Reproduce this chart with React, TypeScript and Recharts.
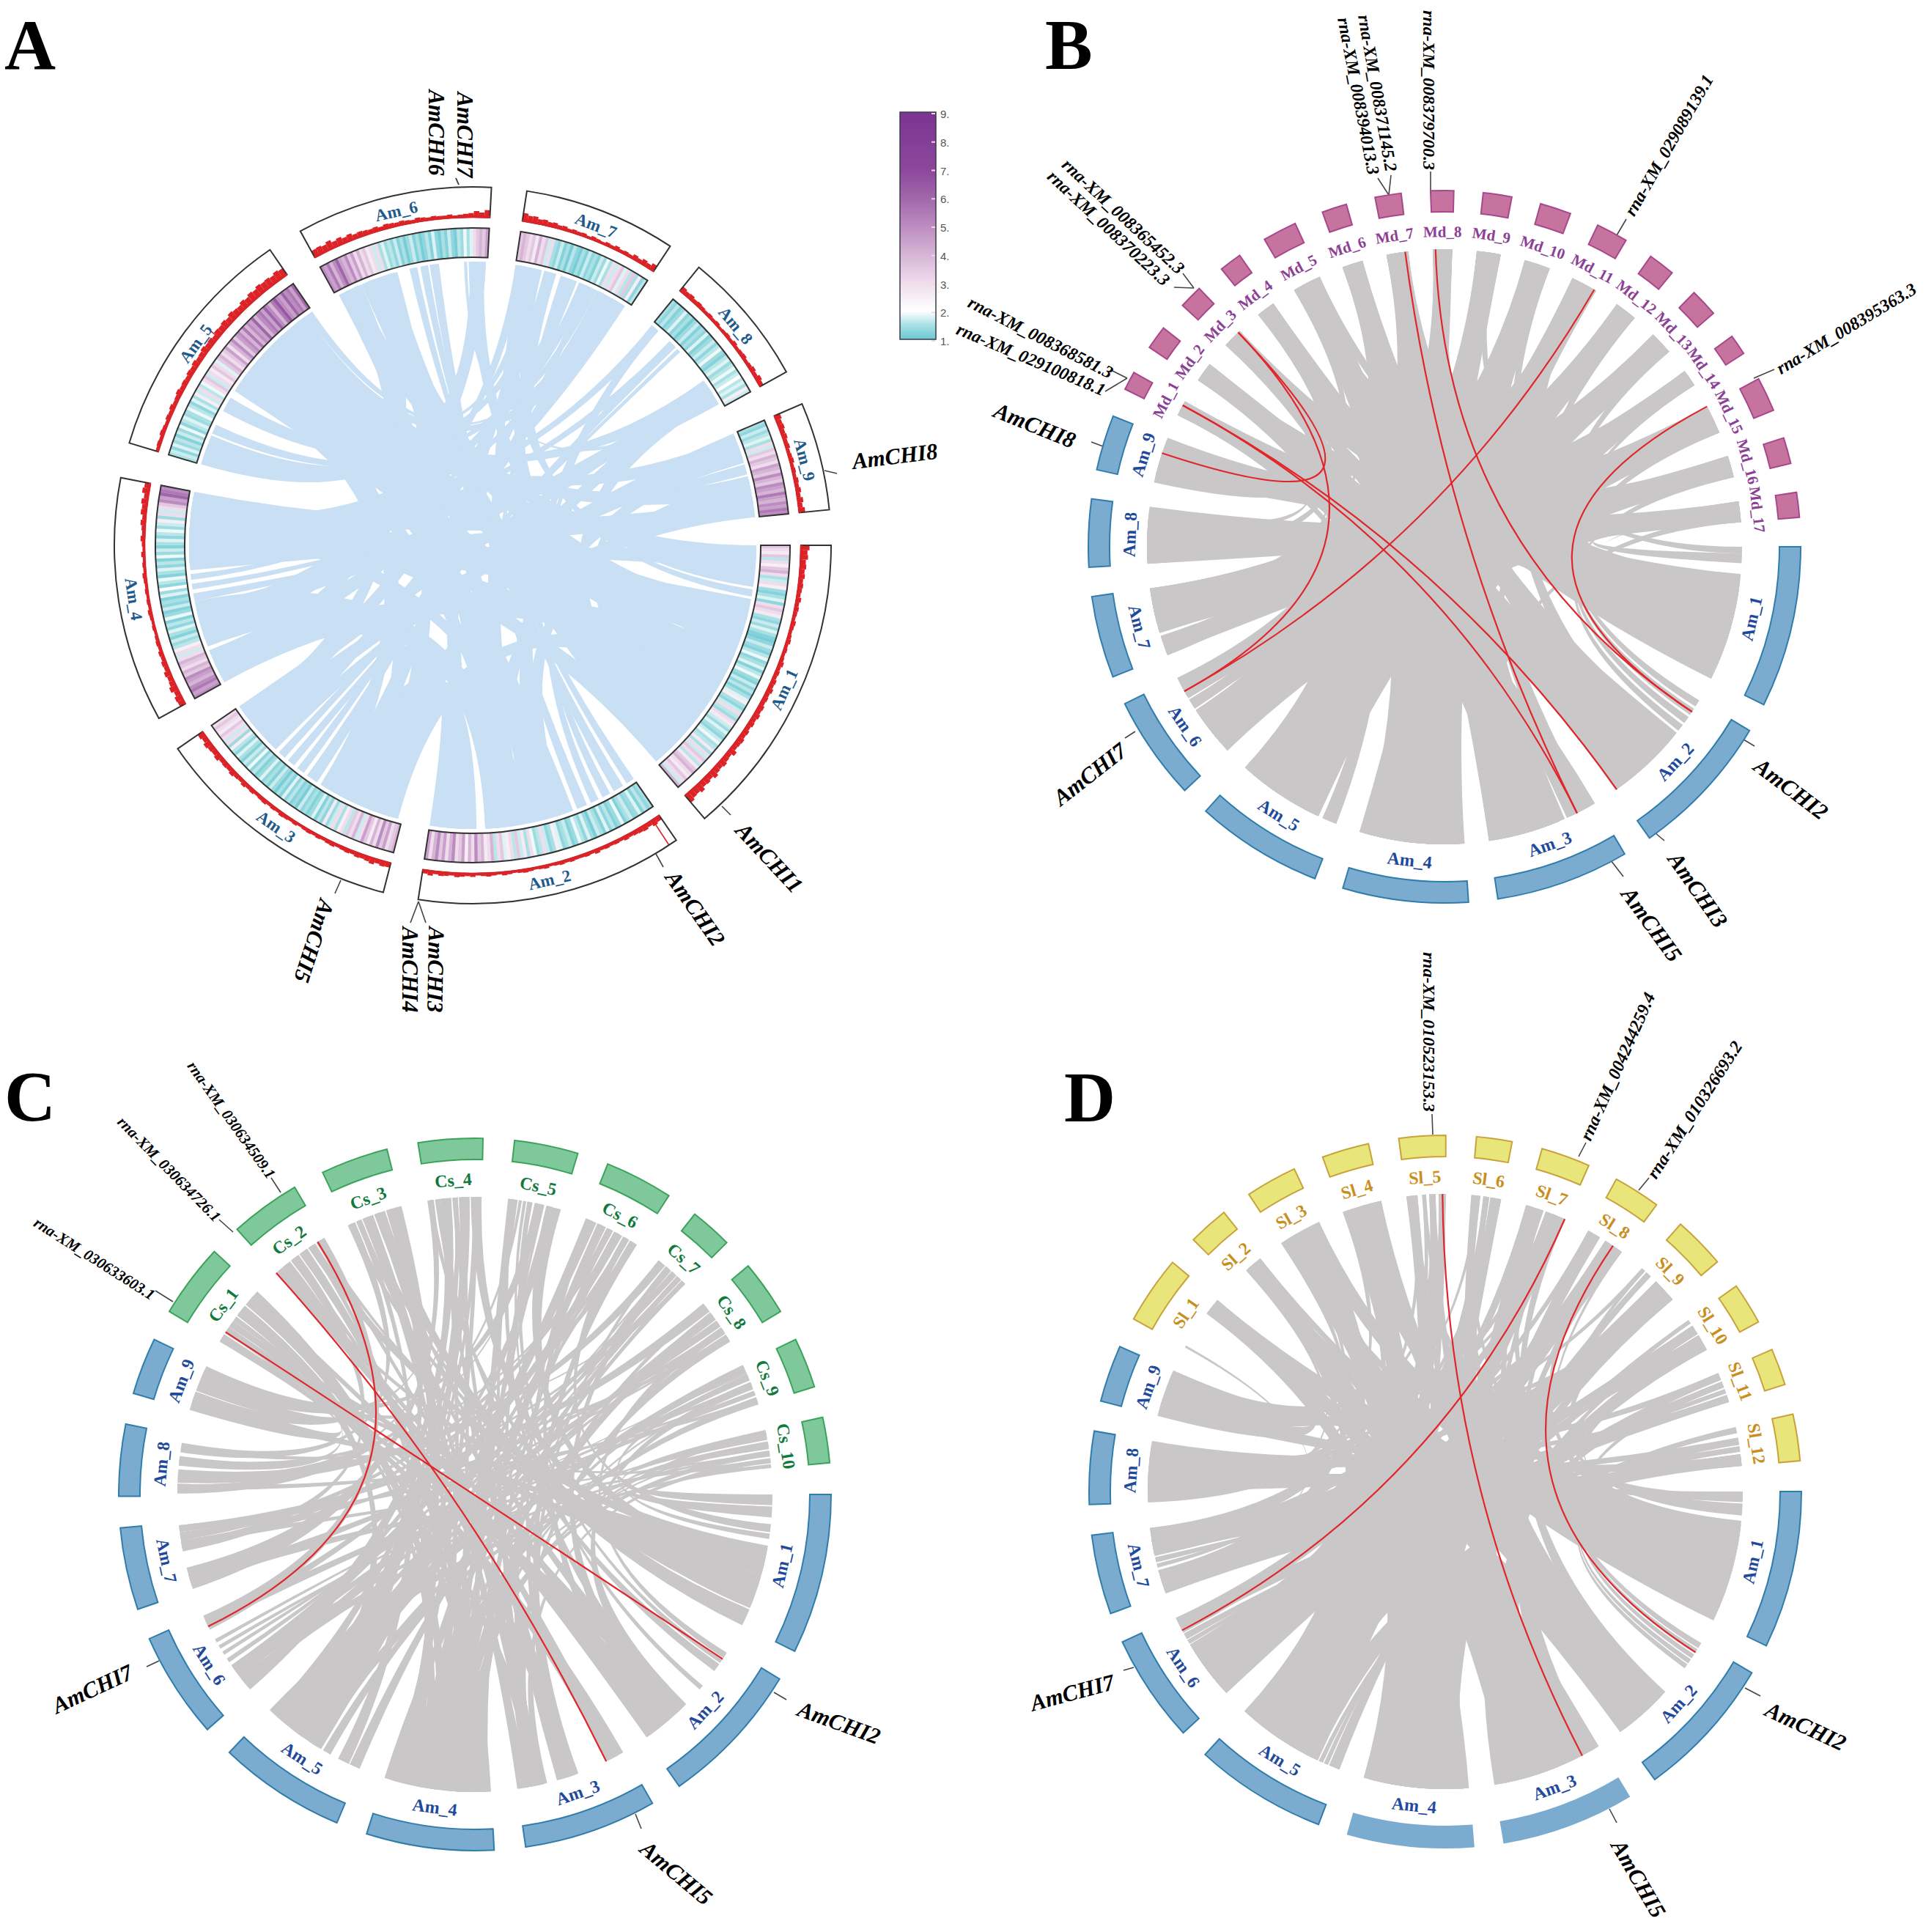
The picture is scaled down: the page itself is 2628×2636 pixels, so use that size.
import { Curve, Pie, PieChart, Sector } from "recharts";

const AM = ["Am_1", "Am_2", "Am_3", "Am_4", "Am_5", "Am_6", "Am_7", "Am_8", "Am_9"];
const amA = [49.6, 43.3, 40.9, 39.7, 38.9, 31.7, 24.7, 21.9, 17.5];
const amB = [26, 23.5, 21.5, 20.2, 20.5, 16.8, 13.2, 10.9, 8.9];
const amC = [26.1, 23.8, 21.7, 20.8, 20.8, 17.4, 13.4, 11.7, 9.3];
const amD = [25.7, 23.4, 21.6, 20.5, 21.6, 17.7, 13, 11.9, 9.3];

const MD = ["Md_1", "Md_2", "Md_3", "Md_4", "Md_5", "Md_6", "Md_7", "Md_8", "Md_9", "Md_10", "Md_11", "Md_12", "Md_13", "Md_14", "Md_15", "Md_16", "Md_17"];
const mdLen = [3, 3.8, 3.8, 3.6, 5.5, 4, 4.2, 3.7, 4.6, 5, 5.1, 4.3, 4.5, 3.3, 5.5, 4.2, 4];
const CS = ["Cs_1", "Cs_2", "Cs_3", "Cs_4", "Cs_5", "Cs_6", "Cs_7", "Cs_8", "Cs_9", "Cs_10"];
const csLen = [12.1, 11.5, 11, 10.5, 10.4, 11.1, 6.9, 9, 8.2, 7.4];
const SL = ["Sl_1", "Sl_2", "Sl_3", "Sl_4", "Sl_5", "Sl_6", "Sl_7", "Sl_8", "Sl_9", "Sl_10", "Sl_11", "Sl_12"];
const slLen = [11.1, 6.6, 8.4, 7.7, 7.6, 5.8, 8, 7.7, 8.5, 6.8, 6, 7.6];

// gene density strips, one list per chromosome (panel A)
const heat1 = [3.5, 3, 2.6, 3.5, 1.6, 3, 2.5, 3.5, 4, 3, 1.5, 1.7, 3, 2.5, 1.4, 1.2, 1.5, 1.8, 1.3, 3, 3.5, 3, 2.6, 1.5, 1.3, 1.7, 1.4, 1.8, 1.5, 1.2, 1.1, 1.3, 1.7, 1.4, 1.2, 1.6, 1.9, 1.3, 1.5, 1.8, 1.2, 1.6, 1.9, 1.4, 1.2, 1.7, 1.3, 1.6, 1.2, 1.5, 1.8, 2.5, 1.5, 1.3, 1.7, 3, 1.6, 1.4, 3, 2.6, 1.7, 1.4, 1.8, 1.5, 1.3, 1.7, 1.9, 1.5, 1.6, 2.6, 1.5, 3, 1.7, 3.5, 3, 1.6, 2.6, 3.5, 4, 3, 2.6, 3.5, 3, 1.7, 4];
const heat2 = [1.5, 1.3, 1.6, 1.2, 1.8, 1.4, 1.3, 1.7, 1.5, 1.2, 1.9, 1.4, 1.2, 1.6, 1.3, 1.8, 1.2, 1.5, 1.7, 1.1, 1.4, 1.8, 1.3, 1.6, 1.9, 1.4, 1.2, 1.7, 1.5, 1.3, 1.8, 2.5, 1.5, 1.3, 1.7, 3, 1.6, 1.4, 1.9, 3, 1.5, 2.6, 1.7, 3.5, 1.6, 3, 2.5, 1.8, 3.5, 3, 1.6, 4, 3, 2.6, 4, 3.5, 5, 3, 4, 2.5, 4.5, 3.5, 3, 5, 4, 3, 4.5, 3.5, 5, 4, 3, 4.5];
const heat3 = [4, 3.5, 3, 4.5, 3.5, 5, 3, 4, 2.6, 3.5, 4.5, 3, 1.7, 4, 3, 3.5, 1.6, 3, 2.5, 1.5, 3, 1.7, 1.4, 2.6, 1.3, 1.6, 1.2, 1.8, 1.4, 1.2, 1.5, 1.3, 1.7, 1.1, 1.4, 1.2, 1.6, 1.3, 1.8, 1.2, 1.5, 1.1, 1.4, 1.7, 1.2, 1.5, 1.3, 1.8, 1.4, 1.2, 1.6, 1.3, 1.9, 1.4, 1.7, 1.2, 1.5, 1.8, 1.3, 1.6, 2.5, 1.4, 3, 1.7, 3, 3.5, 2.6, 3, 3.5, 3];
const heat4 = [5, 4.5, 5.5, 5, 4, 4.5, 5, 3.5, 4, 3, 3.5, 4, 3, 1.7, 3, 2.5, 1.6, 1.4, 1.7, 1.2, 1.5, 1.8, 1.3, 1.6, 1.2, 1.9, 1.4, 1.2, 1.7, 1.3, 1.5, 1.2, 1.8, 1.4, 2, 1.3, 1.6, 1.9, 1.2, 1.5, 1.8, 1.3, 1.6, 1.2, 1.9, 1.4, 1.7, 1.2, 1.5, 1.8, 1.3, 1.6, 1.9, 1.4, 1.7, 2.5, 1.4, 3, 1.7, 3, 3.5, 5, 4.5, 6, 5.5, 5];
const heat5 = [1.5, 1.7, 1.3, 1.8, 1.4, 1.6, 1.2, 1.7, 1.4, 1.9, 1.3, 1.6, 1.8, 1.4, 1.5, 1.9, 1.6, 1.3, 1.8, 1.5, 2.5, 1.7, 3, 1.6, 1.9, 3, 3.5, 1.7, 3, 2.6, 3.5, 3, 1.8, 3.5, 4, 3, 3.5, 4.5, 3, 4, 5, 3.5, 4.5, 5, 4, 5.5, 4, 5, 4.5, 6, 4, 5, 5.5, 4.5, 6, 5, 4, 5.5, 6.5, 5, 4.5, 6, 5, 5.5, 4.5, 6];
const heat6 = [5, 4.5, 5.5, 4, 5, 6, 4.5, 4, 5, 3.5, 4.5, 3, 4, 3, 3.5, 2.6, 3, 1.7, 3, 1.5, 1.8, 1.4, 1.6, 1.3, 1.7, 1.2, 1.5, 1.1, 1.4, 1.7, 1.2, 1.5, 1.1, 1.3, 1.6, 1.2, 1.8, 1.3, 1.1, 1.5, 1.2, 1.7, 1.3, 1.1, 1.6, 1.4, 1.9, 1.5, 1.8, 3, 3.5, 4, 3.5, 4.5];
const heat7 = [3.5, 4, 3.5, 3, 3.5, 2.6, 4, 3, 3.5, 1.7, 3, 1.5, 1.3, 1.7, 1.2, 1.5, 1.1, 1.6, 1.3, 1.1, 1.5, 1.2, 1.7, 1.3, 1.5, 1.2, 1.7, 1.4, 1.9, 1.5, 3, 1.7, 3, 3.5, 1.8, 3, 1.6, 3.5, 1.5, 2.5, 1.3, 1.6];
const heat8 = [1.5, 1.3, 1.6, 1.2, 1.4, 1.8, 1.3, 1.5, 1.1, 1.4, 1.7, 1.2, 1.5, 1.3, 1.8, 1.2, 1.4, 1.7, 1.3, 1.6, 1.9, 1.4, 1.2, 1.6, 1.8, 1.4, 1.6, 1.9, 1.5, 1.7, 2, 1.6, 1.8, 1.5, 2.5, 1.7];
const heat9 = [1.5, 1.3, 1.7, 1.4, 1.6, 1.8, 1.5, 3, 1.7, 3.5, 3, 4, 3.5, 3, 4.5, 4, 3.5, 5, 4, 3.5, 5, 4.5, 4, 5.5, 4.5, 4, 5, 4.5, 5.5, 5];
const heatLists = [heat1, heat2, heat3, heat4, heat5, heat6, heat7, heat8, heat9];

// read count histogram heights (panel A)
const hist1 = [14, 11, 12, 9, 10, 8, 9, 7, 8, 7, 6, 8, 6, 7, 6, 5, 7, 6, 5, 6, 7, 5, 6, 5, 6, 8, 6, 7, 6, 8, 7, 9, 7, 8, 7, 9, 8, 10, 8, 9, 7, 9, 8, 10, 9, 8, 12, 8, 9, 11, 9, 10, 13, 9, 11, 10, 14, 11, 12, 15];
const hist2 = [8, 10, 7, 9, 8, 7, 6, 7, 5, 6, 5, 6, 5, 7, 5, 6, 5, 5, 6, 5, 6, 5, 4, 6, 5, 4, 5, 6, 5, 4, 5, 6, 4, 5, 6, 5, 4, 6, 5, 6, 7, 5, 6, 7, 5, 8, 6];
const hist3 = [8, 9, 7, 10, 8, 7, 8, 6, 7, 6, 5, 7, 6, 5, 6, 5, 6, 5, 4, 6, 5, 6, 7, 5, 6, 5, 7, 6, 5, 7, 6, 8, 6, 7, 9, 7, 8, 7, 10, 8, 9, 11, 8, 10];
const hist4 = [10, 11, 8, 12, 9, 8, 10, 7, 8, 6, 7, 5, 6, 5, 4, 5, 4, 5, 6, 4, 5, 4, 5, 4, 5, 6, 4, 5, 4, 6, 4, 5, 7, 5, 6, 8, 6, 9, 8, 10, 7, 11, 9];
const hist5 = [5, 6, 5, 7, 6, 5, 7, 6, 8, 6, 7, 9, 7, 8, 7, 9, 8, 10, 8, 9, 11, 9, 10, 8, 11, 10, 12, 10, 13, 11, 10, 13, 11, 14, 12, 15, 13, 14, 12, 15, 13];
const hist6 = [12, 13, 11, 14, 10, 12, 9, 11, 8, 9, 8, 7, 8, 6, 8, 7, 6, 7, 6, 5, 7, 6, 5, 6, 5, 5, 6, 4, 5, 6, 7, 10, 8, 12];
const hist7 = [13, 10, 11, 8, 9, 7, 8, 6, 7, 5, 6, 5, 6, 4, 6, 5, 4, 6, 5, 7, 5, 6, 5, 8, 6, 9, 7, 11];
const hist8 = [9, 7, 8, 6, 7, 6, 5, 6, 5, 6, 4, 5, 6, 5, 7, 5, 6, 7, 5, 6, 8, 6, 9, 7];
const hist9 = [10, 8, 9, 7, 8, 6, 7, 5, 6, 7, 5, 6, 5, 7, 6, 8, 6, 9, 7, 10];
const histLists = [hist1, hist2, hist3, hist4, hist5, hist6, hist7, hist8, hist9];

// [sector, from %, to %, sector, from %, to %]
const linksA = [
  [0, 22, 42, 3, 72, 97], [0, 42, 56, 3, 0, 17], [0, 56, 70, 2, 2, 18], [0, 70, 86, 4, 42, 62], [0, 86, 100, 5, 18, 40],
  [0, 0, 12, 5, 2, 16], [0, 12, 17, 6, 0, 10], [0, 18, 21, 6, 11, 22], [1, 32, 52, 4, 62, 84], [1, 52, 74, 3, 20, 44],
  [1, 78, 100, 2, 20, 42], [1, 0, 4, 5, 50, 55], [1, 6, 11, 5, 57, 62], [1, 13, 17, 6, 24, 34], [1, 19, 23, 7, 0, 8],
  [1, 25, 30, 5, 63, 69], [2, 46, 52, 6, 44, 52], [2, 54, 58, 6, 60, 66], [2, 60, 64, 7, 22, 30], [2, 66, 70, 7, 32, 36],
  [2, 72, 78, 8, 0, 12], [2, 82, 92, 8, 12, 36], [2, 92, 100, 7, 70, 84], [3, 44, 48, 8, 38, 50], [3, 50, 53, 7, 84, 95],
  [3, 55, 58, 6, 70, 78], [3, 60, 70, 8, 75, 100], [8, 52, 72, 4, 85, 95], [4, 0, 16, 5, 89, 99], [4, 17, 22, 6, 54, 62],
  [4, 30, 38, 6, 64, 70], [4, 96, 100, 6, 72, 78], [4, 86, 95, 6, 80, 96], [5, 85, 87, 7, 90, 96], [6, 38, 44, 1, 70, 74],
  [0, 24, 36, 4, 46, 60], [0, 30, 44, 5, 4, 14], [0, 44, 54, 4, 64, 80], [0, 50, 62, 3, 4, 18], [0, 60, 72, 3, 72, 84],
  [0, 66, 78, 8, 4, 30], [0, 74, 88, 6, 2, 12], [0, 84, 96, 7, 72, 92], [0, 90, 100, 3, 84, 98], [0, 2, 10, 3, 64, 72],
  [1, 34, 44, 3, 76, 90], [1, 42, 54, 5, 20, 36], [1, 54, 64, 4, 44, 58], [1, 60, 72, 5, 2, 14], [1, 66, 74, 3, 4, 18],
  [1, 36, 48, 8, 54, 84], [1, 80, 92, 3, 24, 36], [2, 4, 16, 5, 30, 40], [2, 14, 26, 4, 50, 62], [2, 26, 38, 6, 12, 20],
  [2, 34, 44, 4, 66, 80], [2, 84, 96, 5, 6, 16], [2, 74, 82, 6, 72, 82], [3, 2, 14, 5, 22, 32], [3, 22, 34, 6, 0, 8],
  [3, 30, 42, 7, 74, 90], [3, 62, 72, 6, 44, 52], [3, 80, 92, 7, 0, 8], [3, 88, 100, 8, 78, 100], [4, 44, 56, 6, 24, 34],
  [4, 60, 72, 7, 70, 84], [4, 74, 86, 8, 56, 74], [4, 88, 96, 6, 12, 20],
  [0, 28, 40, 5, 22, 34], [0, 46, 60, 5, 88, 98], [0, 64, 76, 4, 88, 96], [1, 38, 50, 7, 0, 8], [1, 56, 70, 6, 2, 10],
  [1, 84, 96, 5, 32, 42], [1, 60, 72, 8, 14, 34], [2, 6, 20, 7, 74, 90], [2, 20, 34, 8, 80, 100], [2, 86, 98, 6, 24, 34],
  [3, 6, 18, 6, 84, 96], [3, 26, 40, 5, 89, 99], [3, 76, 90, 6, 54, 62], [3, 64, 72, 7, 22, 30], [4, 50, 64, 8, 4, 24], [4, 66, 80, 5, 6, 18],
];
const linksB = [
  [9, 0, 30, 8, 37, 70], [9, 32, 62, 2, 0, 14], [9, 64, 100, 1, 82, 100],
  [10, 0, 35, 7, 62, 78], [10, 36, 70, 0, 20, 32], [10, 72, 100, 4, 40, 62],
  [11, 0, 34, 8, 0, 35], [11, 36, 68, 5, 74, 88], [11, 70, 100, 2, 14, 28],
  [12, 0, 30, 6, 34, 45], [12, 32, 66, 1, 32, 48], [12, 68, 100, 3, 0, 22],
  [13, 0, 30, 7, 0, 25], [13, 32, 62, 4, 0, 14], [13, 64, 100, 0, 32, 46],
  [14, 0, 30, 6, 62, 80], [14, 32, 60, 3, 22, 44], [14, 62, 100, 1, 66, 82],
  [15, 0, 40, 5, 38, 58], [15, 42, 100, 0, 85, 100],
  [16, 0, 30, 5, 90, 100], [16, 32, 66, 2, 30, 55], [16, 68, 100, 4, 82, 100],
  [17, 0, 34, 3, 63, 82], [17, 36, 70, 0, 0, 5], [17, 72, 100, 5, 60, 72],
  [18, 0, 33, 6, 0, 30], [18, 35, 66, 2, 57, 70], [18, 68, 100, 1, 48, 66],
  [19, 0, 34, 4, 18, 40], [19, 36, 68, 0, 56, 70], [19, 70, 100, 3, 82, 100],
  [20, 0, 32, 6, 82, 100], [20, 34, 66, 0, 46, 56], [20, 68, 100, 2, 72, 86],
  [21, 0, 30, 7, 27, 45], [21, 32, 64, 5, 0, 20], [21, 66, 100, 1, 0, 6],
  [22, 0, 36, 3, 45, 62], [22, 38, 70, 7, 47, 60], [22, 72, 100, 1, 8, 14],
  [23, 0, 34, 5, 20, 38], [23, 36, 70, 4, 62, 82], [23, 72, 100, 1, 16, 22],
  [24, 0, 34, 6, 47, 60], [24, 36, 66, 8, 72, 100], [24, 68, 100, 1, 24, 30],
  [25, 0, 30, 7, 80, 100], [25, 32, 50, 0, 70, 85], [25, 52, 66, 0, 5, 12], [25, 68, 100, 2, 88, 100],
  [9, 10, 60, 0, 50, 70], [9, 40, 90, 1, 40, 60], [9, 20, 70, 2, 40, 60], [9, 0, 50, 3, 30, 50],
  [10, 0, 50, 0, 55, 75], [10, 30, 80, 1, 50, 70], [10, 50, 100, 2, 60, 80], [10, 10, 60, 3, 10, 30],
  [11, 0, 50, 0, 60, 85], [11, 20, 70, 1, 60, 85], [11, 50, 100, 2, 34, 55], [11, 30, 80, 3, 50, 70],
  [12, 0, 50, 0, 75, 100], [12, 30, 80, 1, 70, 95], [12, 50, 100, 2, 70, 90], [12, 10, 60, 4, 60, 80],
  [13, 0, 50, 0, 25, 45], [13, 20, 70, 2, 50, 75], [13, 50, 100, 3, 30, 55], [13, 30, 80, 4, 30, 55],
  [14, 0, 50, 1, 35, 60], [14, 30, 80, 2, 80, 100], [14, 50, 100, 4, 70, 95], [14, 10, 60, 5, 10, 35],
  [15, 0, 50, 1, 55, 80], [15, 30, 80, 3, 60, 85], [15, 50, 100, 4, 20, 45], [15, 10, 60, 5, 40, 55],
  [16, 0, 50, 2, 5, 25], [16, 30, 80, 3, 5, 30], [16, 50, 100, 5, 62, 72], [16, 20, 70, 4, 50, 70],
  [17, 0, 50, 2, 35, 55], [17, 30, 80, 3, 40, 60], [17, 50, 100, 4, 85, 100], [17, 10, 60, 5, 76, 95],
  [18, 0, 50, 2, 60, 85], [18, 30, 80, 3, 70, 95], [18, 50, 100, 5, 20, 40], [18, 10, 60, 6, 40, 60],
  [19, 0, 50, 3, 10, 35], [19, 30, 80, 4, 40, 65], [19, 50, 100, 5, 42, 58], [19, 20, 70, 6, 50, 80],
  [20, 0, 50, 3, 45, 65], [20, 30, 80, 4, 70, 90], [20, 50, 100, 5, 80, 100], [20, 10, 60, 6, 85, 100],
  [21, 0, 50, 4, 20, 40], [21, 30, 80, 5, 5, 25], [21, 50, 100, 6, 35, 55], [21, 10, 60, 7, 5, 30],
  [22, 0, 50, 4, 50, 70], [22, 30, 80, 5, 30, 50], [22, 50, 100, 6, 60, 80], [22, 10, 60, 7, 30, 55],
  [23, 0, 50, 3, 80, 100], [23, 30, 80, 5, 62, 72], [23, 50, 100, 6, 2, 28], [23, 10, 60, 8, 10, 40],
  [24, 0, 50, 4, 85, 100], [24, 30, 80, 5, 76, 98], [24, 50, 100, 7, 55, 80], [24, 10, 60, 8, 40, 70],
  [25, 0, 50, 5, 5, 30], [25, 30, 80, 6, 40, 65], [25, 50, 100, 7, 70, 95], [25, 10, 60, 8, 60, 95],
  [9, 0, 100, 0, 25, 55], [9, 0, 100, 2, 50, 85], [10, 0, 100, 1, 50, 90], [10, 0, 100, 3, 20, 60],
  [11, 0, 100, 0, 50, 90], [11, 0, 100, 3, 35, 75], [12, 0, 100, 1, 60, 100], [12, 0, 100, 2, 35, 75], [12, 0, 100, 4, 70, 100],
  [13, 0, 100, 2, 60, 95], [13, 0, 100, 3, 55, 95], [14, 0, 100, 3, 5, 45], [14, 0, 100, 2, 35, 75], [14, 0, 100, 4, 40, 80],
  [15, 0, 100, 3, 30, 70], [15, 0, 100, 4, 60, 100], [15, 0, 100, 2, 60, 100], [16, 0, 100, 3, 50, 90], [16, 0, 100, 4, 20, 60], [16, 0, 100, 5, 0, 40],
  [17, 0, 100, 3, 60, 100], [17, 0, 100, 4, 30, 70], [17, 0, 100, 5, 20, 58], [18, 0, 100, 4, 50, 90], [18, 0, 100, 3, 0, 40], [18, 0, 100, 5, 40, 58],
  [19, 0, 100, 4, 60, 100], [19, 0, 100, 5, 0, 30], [19, 0, 100, 3, 40, 80], [20, 0, 100, 5, 0, 40], [20, 0, 100, 4, 25, 65], [20, 0, 100, 6, 35, 80],
  [21, 0, 100, 5, 20, 58], [21, 0, 100, 6, 50, 90], [21, 0, 100, 4, 45, 85], [22, 0, 100, 5, 74, 100], [22, 0, 100, 6, 40, 85], [22, 0, 100, 3, 55, 95],
  [23, 0, 100, 6, 35, 75], [23, 0, 100, 7, 20, 60], [23, 0, 100, 4, 70, 100], [24, 0, 100, 7, 30, 70], [24, 0, 100, 5, 0, 40], [24, 0, 100, 6, 60, 100],
  [25, 0, 100, 7, 0, 40], [25, 0, 100, 6, 35, 75], [25, 0, 100, 8, 20, 70],
];
const linksC = [
  [9, 0, 14, 8, 0, 40], [9, 16, 26, 2, 0, 17], [9, 28, 38, 0, 61, 72], [9, 40, 48, 7, 50, 66], [9, 50, 70, 4, 56, 70], [9, 72, 100, 3, 47, 58],
  [10, 0, 16, 1, 85, 99], [10, 18, 30, 8, 42, 70], [10, 32, 48, 6, 58, 72], [10, 50, 66, 3, 0, 14], [10, 68, 82, 0, 38, 48], [10, 84, 100, 5, 82, 99],
  [11, 0, 14, 7, 72, 88], [11, 16, 26, 4, 11, 22], [11, 28, 48, 2, 90, 100], [11, 50, 70, 0, 87, 100], [11, 72, 100, 3, 81, 90],
  [12, 0, 12, 6, 2, 34], [12, 14, 22, 1, 15, 22], [12, 24, 44, 5, 2, 18], [12, 46, 56, 2, 55, 64], [12, 58, 78, 4, 71, 85], [12, 80, 100, 0, 73, 86],
  [13, 0, 18, 3, 15, 24], [13, 20, 26, 7, 4, 20], [13, 28, 34, 1, 37, 41], [13, 36, 46, 1, 10, 14], [13, 50, 68, 8, 72, 97], [13, 72, 100, 0, 49, 60],
  [14, 0, 20, 4, 40, 55], [14, 22, 38, 3, 59, 68], [14, 40, 52, 6, 74, 84], [14, 54, 70, 5, 19, 36], [14, 72, 84, 0, 22, 28], [14, 86, 100, 2, 44, 54],
  [15, 0, 24, 7, 22, 44], [15, 26, 46, 1, 71, 84], [15, 48, 66, 5, 40, 45], [15, 68, 84, 4, 0, 10], [15, 86, 100, 3, 91, 100],
  [16, 0, 22, 6, 86, 96], [16, 24, 44, 3, 26, 36], [16, 46, 62, 5, 50, 54], [16, 64, 80, 1, 4, 9], [16, 82, 100, 2, 81, 89],
  [17, 0, 20, 4, 30, 38], [17, 20, 24, 5, 66, 70], [17, 24, 40, 0, 29, 33], [17, 44, 62, 1, 57, 70], [17, 66, 78, 5, 58, 62], [17, 82, 100, 3, 70, 80],
  [18, 0, 26, 0, 0, 8], [18, 30, 50, 0, 9, 17], [18, 54, 70, 3, 37, 46], [18, 74, 88, 2, 73, 80], [18, 90, 100, 4, 86, 100],
  [9, 4, 12, 0, 40, 50], [9, 18, 28, 1, 60, 70], [9, 30, 40, 2, 75, 85], [9, 52, 60, 3, 5, 15], [9, 62, 70, 3, 60, 70], [9, 80, 90, 1, 75, 85],
  [10, 4, 12, 0, 50, 60], [10, 14, 24, 1, 62, 72], [10, 34, 42, 2, 46, 56], [10, 52, 60, 3, 18, 28], [10, 70, 78, 3, 72, 82], [10, 86, 94, 2, 5, 15],
  [11, 2, 10, 0, 65, 75], [11, 18, 26, 1, 80, 90], [11, 30, 40, 3, 28, 38], [11, 52, 62, 2, 76, 86], [11, 74, 84, 4, 42, 52], [11, 88, 98, 4, 60, 70],
  [12, 2, 10, 0, 88, 98], [12, 16, 24, 2, 46, 54], [12, 26, 36, 3, 50, 60], [12, 48, 56, 4, 88, 98], [12, 62, 72, 5, 4, 14], [12, 84, 94, 3, 84, 94],
  [13, 2, 12, 1, 60, 68], [13, 52, 60, 2, 84, 92], [13, 62, 68, 3, 40, 50], [13, 74, 84, 4, 48, 58], [13, 88, 98, 5, 22, 32],
  [14, 2, 12, 1, 86, 96], [14, 24, 32, 2, 78, 86], [14, 42, 50, 3, 2, 12], [14, 56, 64, 4, 64, 74], [14, 74, 82, 5, 84, 94], [14, 88, 98, 6, 60, 70],
  [15, 2, 12, 2, 50, 60], [15, 28, 38, 3, 30, 40], [15, 50, 60, 4, 76, 86], [15, 70, 80, 5, 6, 16], [15, 88, 98, 6, 76, 86],
  [16, 2, 12, 3, 8, 18], [16, 26, 36, 4, 58, 68], [16, 48, 58, 5, 24, 34], [16, 66, 76, 6, 64, 74], [16, 84, 94, 7, 76, 84],
  [17, 2, 12, 3, 52, 62], [17, 26, 34, 4, 80, 90], [17, 46, 54, 5, 86, 96], [17, 68, 76, 6, 88, 96], [17, 84, 94, 7, 10, 20],
  [18, 4, 14, 3, 20, 30], [18, 34, 42, 4, 44, 54], [18, 56, 64, 5, 10, 20], [18, 76, 84, 6, 10, 24], [18, 92, 98, 8, 10, 30],
  [12, 4, 10, 8, 60, 85],
  [9, 4, 10, 1, 70, 78], [10, 86, 92, 0, 60, 70], [11, 30, 38, 0, 75, 85], [11, 54, 60, 1, 60, 70],
  [12, 26, 34, 2, 80, 88], [12, 62, 70, 3, 30, 40], [12, 84, 92, 4, 62, 72], [13, 2, 10, 2, 76, 84], [13, 52, 58, 3, 24, 32], [13, 76, 84, 3, 64, 74],
  [14, 4, 10, 2, 46, 54], [14, 26, 32, 3, 84, 92], [14, 58, 64, 3, 48, 56], [14, 76, 82, 4, 46, 54], [15, 30, 36, 4, 90, 98], [15, 52, 58, 3, 6, 14], [15, 72, 78, 4, 64, 72],
  [16, 28, 34, 3, 60, 68], [16, 50, 56, 4, 72, 80], [16, 68, 74, 5, 8, 16], [17, 4, 10, 4, 42, 50], [17, 46, 52, 3, 28, 36], [17, 70, 76, 5, 86, 94], [18, 6, 12, 5, 22, 30], [18, 36, 42, 3, 76, 84], [18, 58, 64, 6, 66, 74],
  [11, 6, 12, 8, 20, 40], [12, 50, 56, 7, 8, 20], [13, 62, 66, 7, 26, 38], [14, 44, 50, 7, 54, 64], [15, 90, 96, 8, 74, 90], [16, 86, 92, 6, 6, 20],
];
const linksD = [
  [9, 0, 4, 6, 40, 46], [9, 70, 84, 8, 0, 55], [9, 85, 100, 1, 83, 100],
  [10, 45, 60, 7, 0, 15], [10, 60, 80, 4, 71, 100], [10, 80, 100, 0, 85, 100],
  [11, 0, 16, 8, 57, 100], [11, 18, 30, 3, 0, 22], [11, 32, 44, 6, 0, 36], [11, 46, 58, 2, 0, 20], [11, 60, 100, 5, 0, 24],
  [12, 0, 14, 7, 16, 30], [12, 16, 28, 4, 45, 70], [12, 30, 44, 0, 69, 84], [12, 46, 70, 3, 23, 40], [12, 72, 100, 5, 25, 45],
  [13, 0, 14, 2, 21, 48], [13, 16, 28, 6, 72, 100], [13, 40, 50, 1, 67, 82], [13, 58, 74, 4, 21, 44], [13, 82, 100, 3, 85, 100],
  [14, 0, 16, 0, 53, 68], [14, 18, 30, 7, 32, 45], [14, 40, 60, 2, 49, 66], [14, 64, 100, 3, 67, 84],
  [15, 0, 20, 5, 46, 66], [15, 24, 44, 0, 39, 52], [15, 50, 64, 7, 47, 60], [15, 66, 78, 2, 67, 84], [15, 80, 100, 1, 50, 66],
  [16, 0, 14, 5, 81, 99], [16, 20, 34, 3, 41, 57], [16, 50, 66, 0, 22, 38], [16, 70, 90, 2, 87, 100], [16, 92, 100, 1, 0, 5],
  [17, 0, 10, 7, 62, 80], [17, 14, 28, 4, 0, 10], [17, 44, 70, 0, 9, 18], [17, 72, 100, 3, 58, 66],
  [18, 0, 12, 4, 11, 15], [18, 20, 34, 5, 67, 72], [18, 36, 48, 1, 6, 10], [18, 52, 72, 6, 58, 70], [18, 74, 100, 0, 2, 7],
  [19, 0, 24, 7, 82, 100], [19, 30, 50, 1, 11, 15], [19, 56, 70, 6, 48, 56], [19, 76, 100, 5, 73, 80],
  [20, 0, 16, 4, 16, 20], [20, 28, 46, 1, 16, 20], [20, 50, 64, 1, 21, 25], [20, 70, 100, 0, 0, 8],
  [9, 72, 90, 0, 55, 75], [9, 80, 100, 2, 30, 50], [9, 70, 88, 1, 70, 90],
  [10, 50, 75, 0, 70, 90], [10, 60, 85, 1, 55, 75], [10, 75, 100, 2, 60, 80],
  [11, 4, 20, 0, 60, 80], [11, 20, 40, 1, 60, 85], [11, 40, 60, 2, 50, 70], [11, 60, 80, 3, 5, 30], [11, 80, 100, 4, 30, 55],
  [12, 4, 24, 0, 75, 100], [12, 20, 40, 2, 70, 90], [12, 40, 60, 3, 45, 70], [12, 60, 80, 4, 60, 85], [12, 80, 100, 5, 10, 35],
  [13, 2, 14, 0, 25, 45], [13, 16, 28, 3, 5, 30], [13, 40, 50, 4, 50, 75], [13, 58, 74, 5, 5, 30], [13, 82, 100, 5, 30, 55],
  [14, 2, 16, 1, 55, 80], [14, 18, 30, 3, 30, 55], [14, 42, 58, 4, 75, 100], [14, 66, 84, 5, 40, 60], [14, 84, 100, 6, 5, 30],
  [15, 2, 18, 1, 75, 100], [15, 24, 42, 3, 55, 80], [15, 50, 64, 4, 25, 50], [15, 66, 84, 5, 84, 99], [15, 84, 100, 6, 60, 85],
  [16, 2, 14, 2, 5, 30], [16, 20, 34, 4, 45, 70], [16, 50, 66, 5, 10, 30], [16, 70, 85, 6, 5, 30], [16, 86, 100, 7, 5, 30],
  [17, 2, 10, 2, 40, 65], [17, 14, 28, 3, 10, 35], [17, 46, 62, 5, 50, 66], [17, 62, 80, 6, 62, 85], [17, 80, 100, 7, 30, 55],
  [18, 2, 12, 2, 70, 95], [18, 20, 34, 3, 40, 60], [18, 36, 48, 4, 60, 85], [18, 54, 70, 5, 20, 45], [18, 76, 95, 7, 55, 80],
  [19, 2, 22, 3, 70, 95], [19, 30, 50, 4, 80, 100], [19, 56, 70, 5, 84, 99], [19, 78, 98, 7, 70, 95],
  [20, 2, 16, 4, 22, 45], [20, 30, 44, 5, 30, 55], [20, 50, 64, 6, 60, 80], [20, 72, 100, 8, 10, 45],
  [13, 84, 100, 8, 60, 95], [15, 88, 100, 8, 20, 50], [17, 86, 100, 8, 50, 90],
  [11, 60, 100, 0, 30, 70], [11, 20, 60, 3, 30, 70], [12, 46, 100, 1, 55, 95], [12, 0, 44, 3, 40, 80], [12, 50, 100, 4, 50, 90],
  [13, 0, 28, 3, 55, 95], [13, 58, 74, 2, 20, 60], [13, 82, 100, 4, 30, 70], [14, 0, 30, 2, 50, 90], [14, 64, 100, 4, 55, 95], [14, 40, 60, 3, 5, 45],
  [15, 0, 44, 3, 20, 60], [15, 50, 100, 4, 30, 70], [15, 0, 20, 5, 10, 50], [16, 0, 34, 3, 50, 90], [16, 50, 100, 5, 25, 60], [16, 70, 100, 4, 60, 100],
  [17, 44, 100, 4, 40, 80], [17, 44, 70, 5, 0, 40], [17, 72, 100, 6, 60, 95], [18, 20, 48, 5, 30, 66], [18, 52, 100, 3, 55, 95], [18, 52, 72, 6, 0, 36],
  [19, 0, 24, 4, 50, 90], [19, 30, 50, 5, 40, 66], [19, 76, 100, 6, 60, 100], [20, 70, 100, 5, 20, 60], [20, 70, 100, 6, 0, 36], [20, 28, 46, 7, 20, 60],
  [9, 70, 100, 0, 25, 60], [9, 70, 100, 3, 30, 70], [10, 50, 100, 2, 50, 90], [10, 50, 100, 3, 60, 100], [11, 0, 44, 2, 40, 80],
];
// [sector, %, sector, %]
const redB = [[9, 70, 1, 99], [9, 70, 2, 18], [11, 90, 8, 65], [11, 90, 5, 83], [15, 86, 2, 18], [16, 14, 1, 11], [19, 92, 5, 83], [23, 0, 1, 11]];
const redC = [[9, 18, 1, 10], [10, 0, 2, 17], [10, 87, 5, 86]];
const redD = [[13, 92, 2, 17], [15, 99, 5, 84], [16, 73, 1, 9]];
const redTicksA = [[1, 3, 41], [4, 58, 14]];

const heatTicks = [9, 8, 7, 6, 5, 4, 3, 2, 1];
const heatStops: [number, string][] = [[1, "#6cc8d4"], [1.5, "#a9e0e4"], [2, "#ffffff"], [3, "#efdcec"], [4, "#d6b4d6"], [5, "#bb8cc0"], [6, "#a066aa"], [7, "#8c479c"], [9, "#7b3592"]];

const genesA = ["AmCHI7", "AmCHI6", "AmCHI8", "AmCHI1", "AmCHI2", "AmCHI3", "AmCHI4", "AmCHI5"];
const genesB = ["rna-XM_008379700.3", "rna-XM_008371145.2", "rna-XM_008394013.3", "rna-XM_029089139.1", "rna-XM_008395363.3", "rna-XM_008365452.3", "rna-XM_008370223.3", "rna-XM_008368581.3", "rna-XM_029100818.1"];
const genesBAm = ["AmCHI8", "AmCHI7", "AmCHI2", "AmCHI3", "AmCHI5"];
const genesC = ["rna-XM_030634509.1", "rna-XM_030634726.1", "rna-XM_030633603.1"];
const genesCAm = ["AmCHI7", "AmCHI2", "AmCHI5"];
const genesD = ["rna-XM_010523153.3", "rna-XM_004244259.4", "rna-XM_010326693.2"];
const genesDAm = ["AmCHI7", "AmCHI2", "AmCHI5"];

// x, y, rotation, then the leader line
const layoutA = [[635, 184, 90, 622, 243, 626, 252], [596, 181, 90, 622, 243, 626, 252], [1221, 622, -7, 1125, 642, 1142, 646], [1050, 1170, 47, 985, 1100, 997, 1112], [949, 1239, 55, 895, 1165, 905, 1183], [595, 1323, 91, 571, 1230, 581, 1259], [560, 1323, 90, 571, 1230, 560, 1259], [429, 1284, 108, 465, 1201, 457, 1219]];
const layoutB = [[1950, 123, 90, 1952, 234, 1952, 261], [1880, 127, 80, 1898, 239, 1895, 266], [1854, 131, 79, 1880, 243, 1895, 266], [2277, 198, -60, 2206, 321, 2219, 299], [2519, 448, -31, 2393, 516, 2421, 504], [1533, 295, 43, 1629, 393, 1614, 373], [1513, 311, 43, 1629, 393, 1602, 392], [1420, 460, 27, 1538, 516, 1518, 506], [1407, 490, 23, 1538, 516, 1508, 534]];
const layoutBAm = [[1412, 580, 22, 1489, 603, 1505, 609], [1487, 1056, -38, 1535, 1007, 1549, 998], [2444, 1076, 37, 2379, 1009, 2394, 1018], [2317, 1214, 55, 2258, 1136, 2271, 1147], [2254, 1261, 54, 2198, 1174, 2215, 1196]];
const layoutC = [[316, 1528, 54.5, 370, 1607, 383, 1627], [231, 1595, 45.6, 299, 1664, 318, 1681], [129, 1717, 32.5, 212, 1761, 236, 1776]];
const layoutCAm = [[126, 2304, -25, 200, 2274, 217, 2266], [1145, 2350, 20, 1056, 2309, 1073, 2319], [923, 2555, 40, 867, 2475, 875, 2495]];
const layoutD = [[1950, 1408, 90, 1954, 1520, 1955, 1548], [2207, 1455, -66, 2154, 1578, 2164, 1559], [2312, 1514, -57, 2236, 1624, 2250, 1607]];
const layoutDAm = [[1463, 2309, -15, 1533, 2279, 1547, 2275], [2464, 2355, 25, 2381, 2303, 2402, 2314], [2236, 2563, 60, 2196, 2468, 2206, 2487]];

const SERIF = "Liberation Serif";
const BLUE_BAND = { fill: "#7bacd0", stroke: "#2f7dab" };
const GRAY = "#c9c7c8";
const RED = "#e0262b";

function heatColor(v: number) {
  const hex = (s: string) => [1, 3, 5].map((i) => parseInt(s.slice(i, i + 2), 16));
  for (let i = 1; i < heatStops.length; i++) {
    const [hi, hc] = heatStops[i];
    const [lo, lc] = heatStops[i - 1];
    if (v <= hi) {
      const t = (v - lo) / (hi - lo);
      const a = hex(lc);
      const b = hex(hc);
      return `rgb(${a.map((c, k) => Math.round(c + (b[k] - c) * t)).join(",")})`;
    }
  }
  return heatStops[heatStops.length - 1][1];
}

// same sweep as the Pie: clockwise from 3 o'clock, padding after each slice
function sectorSpans(lengths: number[], gap: number) {
  const total = lengths.reduce((a, b) => a + b, 0);
  const usable = 360 - gap * lengths.length;
  let at = 0;
  return lengths.map((v) => {
    const start = at;
    const end = start + (v / total) * usable;
    at = end + gap;
    return { start, end };
  });
}

const pt = (cx: number, cy: number, r: number, deg: number) => {
  const a = (deg * Math.PI) / 180;
  return `${(cx + r * Math.cos(a)).toFixed(1)} ${(cy + r * Math.sin(a)).toFixed(1)}`;
};

function ribbonPath(cx: number, cy: number, r: number, spans: any[], l: number[]) {
  const at = (s: number, p: number) => spans[s].start + ((spans[s].end - spans[s].start) * p) / 100;
  const [s0, a0, a1, s1, b0, b1] = l;
  return `M${pt(cx, cy, r, at(s0, a0))}A${r} ${r} 0 0 1 ${pt(cx, cy, r, at(s0, a1))}Q${cx} ${cy} ${pt(cx, cy, r, at(s1, b0))}A${r} ${r} 0 0 1 ${pt(cx, cy, r, at(s1, b1))}Q${cx} ${cy} ${pt(cx, cy, r, at(s0, a0))}Z`;
}

function linePath(cx: number, cy: number, r: number, spans: any[], l: number[]) {
  const at = (s: number, p: number) => spans[s].start + ((spans[s].end - spans[s].start) * p) / 100;
  return `M${pt(cx, cy, r, at(l[0], l[1]))}Q${cx} ${cy} ${pt(cx, cy, r, at(l[2], l[3]))}`;
}

function Ribbons({ cx, cy, r, spans, links, color }: any) {
  return (
    <g>
      {links.map((l: number[], i: number) => (
        <Curve key={i} path={ribbonPath(cx, cy, r, spans, l)} fill={color} stroke="none" />
      ))}
    </g>
  );
}

function RedLinks({ cx, cy, r, spans, links }: any) {
  return (
    <g>
      {links.map((l: number[], i: number) => (
        <Curve key={i} path={linePath(cx, cy, r, spans, l)} fill="none" stroke={RED} strokeWidth={2.2} />
      ))}
    </g>
  );
}

function sectorLabel(r: number, size: number, colorFor: (n: string) => string) {
  return (p: any) => {
    const a = (-p.midAngle * Math.PI) / 180;
    const x = p.cx + r * Math.cos(a);
    const y = p.cy + r * Math.sin(a);
    const top = ((90 - p.midAngle) % 360 + 360) % 360;
    const rot = top > 90 && top < 270 ? top - 180 : top;
    const isMd = p.name.startsWith("Md");
    return (
      <text x={x} y={y} dy="0.35em" textAnchor="middle" transform={`rotate(${rot} ${x} ${y})`} fontFamily={SERIF} fontWeight="bold" fontSize={isMd ? size - 3 : size} fill={colorFor(p.name)}>
        {p.name}
      </text>
    );
  };
}

function GeneLabels({ names, layout, size }: any) {
  return (
    <g>
      {names.map((n: string, i: number) => {
        const [x, y, rot, x1, y1, x2, y2] = layout[i];
        return (
          <g key={n + i}>
            <line x1={x1} y1={y1} x2={x2} y2={y2} stroke="#444" strokeWidth={1.6} />
            <text x={x} y={y} dy="0.35em" textAnchor="middle" transform={`rotate(${rot} ${x} ${y})`} fontFamily={SERIF} fontWeight="bold" fontStyle="italic" fontSize={size} fill="#000">
              {n}
            </text>
          </g>
        );
      })}
    </g>
  );
}

function Letter({ x, y, c }: any) {
  return (
    <text x={x} y={y} fontFamily={SERIF} fontWeight="bold" fontSize={97} fill="#000">
      {c}
    </text>
  );
}

function ColorBar() {
  const top = 153;
  const h = 310;
  return (
    <g>
      <defs>
        <linearGradient id="heatBar" x1="0" y1="1" x2="0" y2="0">
          {heatStops.map(([v, c]) => (
            <stop key={v} offset={`${((v - 1) / 8) * 100}%`} stopColor={c} />
          ))}
        </linearGradient>
      </defs>
      <rect x={1228} y={top} width={49} height={h} fill="url(#heatBar)" stroke="#3a3a4a" strokeWidth={1.5} />
      {heatTicks.map((t) => {
        const y = top + h - ((t - 1) / 8) * h;
        return (
          <g key={t}>
            <line x1={1271} x2={1276} y1={y + 2} y2={y + 2} stroke="#f2d3ee" strokeWidth={2} />
            <text x={1283} y={y + 8} fontFamily="Liberation Sans" fontSize={15} fill="#555">{`${t}.`}</text>
          </g>
        );
      })}
    </g>
  );
}

const table = (names: string[], lengths: number[], band: (n: string) => any) =>
  names.map((name, i) => ({ name, value: lengths[i], ...band(name) }));

const gapA = 5.7;
const spansA = sectorSpans(amA, gapA);
const tableA = table(AM, amA, () => ({ fill: "none", stroke: "#333333" }));
const frameA = table(AM, amA, () => ({ fill: "none", stroke: "#333333" }));
const baseA = table(AM, amA, () => ({ fill: "#dc2327", stroke: "#dc2327" }));

const gapB = 4.75;
const lenB = [...amB, ...mdLen];
const spansB = sectorSpans(lenB, gapB);
const tableB = table([...AM, ...MD], lenB, (n) => (n.startsWith("Am") ? BLUE_BAND : { fill: "#c6749f", stroke: "#a8478c" }));

const gapC = 5.1;
const lenC = [...amC, ...csLen];
const spansC = sectorSpans(lenC, gapC);
const tableC = table([...AM, ...CS], lenC, (n) => (n.startsWith("Am") ? BLUE_BAND : { fill: "#7fc89c", stroke: "#3ca35a" }));

const gapD = 4.95;
const lenD = [...amD, ...slLen];
const spansD = sectorSpans(lenD, gapD);
const tableD = table([...AM, ...SL], lenD, (n) =>
  n === "Am_3" || n === "Am_4" ? { fill: "#7bacd0", stroke: "#7bacd0" } : n.startsWith("Am") ? BLUE_BAND : { fill: "#e8e67a", stroke: "#c9a23c" }
);

const A = { cx: 645, cy: 744 };
const B = { cx: 1971, cy: 746 };
const C = { cx: 648, cy: 2039 };
const D = { cx: 1972, cy: 2035 };

const labelColor = (am: string, other: string) => (n: string) => (n.startsWith("Am") ? am : other);

export default function App() {
  return (
    <div style={{ position: "absolute", left: 0, top: 0, background: "#fff" }}>
      <PieChart width={2628} height={2636} margin={{ top: 0, right: 0, bottom: 0, left: 0 }}>
        <Letter x={6} y={94} c="A" />
        <Letter x={1426} y={94} c="B" />
        <Letter x={6} y={1529} c="C" />
        <Letter x={1452} y={1530} c="D" />
        <ColorBar />

        {/* A */}
        <Ribbons {...A} r={387} spans={spansA} links={linksA} color="#c9dff3" />
        <Pie data={tableA} dataKey="value" nameKey="name" {...A} innerRadius={448} outerRadius={489} startAngle={0} endAngle={-360} paddingAngle={gapA} strokeWidth={2} isAnimationActive={false} labelLine={false} label={sectorLabel(468, 23, () => "#1f5a8c")} />
        <Pie data={baseA} dataKey="value" {...A} innerRadius={447} outerRadius={450} startAngle={0} endAngle={-360} paddingAngle={gapA} strokeWidth={0.5} isAnimationActive={false} />
        {histLists.map((h, s) =>
          h.map((v, i) => {
            const w = (spansA[s].end - spansA[s].start) / h.length;
            return <Sector key={`${s}-${i}`} {...A} innerRadius={447} outerRadius={447 + v * 0.9} startAngle={-(spansA[s].start + i * w)} endAngle={-(spansA[s].start + (i + 1) * w)} fill="#dc2327" stroke="none" />;
          })
        )}
        {redTicksA.map(([s, p, len]) => {
          const at = spansA[s].start + ((spansA[s].end - spansA[s].start) * p) / 100;
          return <Sector key={`t${s}`} {...A} innerRadius={448} outerRadius={448 + len} startAngle={-at} endAngle={-at - 0.2} fill={RED} stroke="none" />;
        })}
        {heatLists.map((list, s) => (
          <Pie key={s} data={list.map((v, i) => ({ name: `${AM[s]}-${i}`, value: 1, fill: heatColor(v), stroke: heatColor(v) }))} dataKey="value" {...A} innerRadius={393} outerRadius={433} startAngle={-spansA[s].start} endAngle={-spansA[s].end} strokeWidth={0.4} isAnimationActive={false} />
        ))}
        <Pie data={frameA} dataKey="value" {...A} innerRadius={393} outerRadius={433} startAngle={0} endAngle={-360} paddingAngle={gapA} strokeWidth={2} isAnimationActive={false} />
        <GeneLabels names={genesA} layout={layoutA} size={31} />

        {/* B */}
        <Ribbons {...B} r={406} spans={spansB} links={linksB} color={GRAY} />
        <RedLinks {...B} r={406} spans={spansB} links={redB} />
        <Pie data={tableB} dataKey="value" nameKey="name" {...B} innerRadius={457} outerRadius={486} startAngle={0} endAngle={-360} paddingAngle={gapB} strokeWidth={2} isAnimationActive={false} labelLine={false} label={sectorLabel(430, 24, labelColor("#1f4a9c", "#8c3f95"))} />
        <GeneLabels names={genesB} layout={layoutB} size={24} />
        <GeneLabels names={genesBAm} layout={layoutBAm} size={31} />

        {/* C */}
        <Ribbons {...C} r={406} spans={spansC} links={linksC} color={GRAY} />
        <RedLinks {...C} r={406} spans={spansC} links={redC} />
        <Pie data={tableC} dataKey="value" nameKey="name" {...C} innerRadius={457} outerRadius={486} startAngle={0} endAngle={-360} paddingAngle={gapC} strokeWidth={2} isAnimationActive={false} labelLine={false} label={sectorLabel(430, 24, labelColor("#1f4a9c", "#0f7a3c"))} />
        <GeneLabels names={genesC} layout={layoutC} size={21} />
        <GeneLabels names={genesCAm} layout={layoutCAm} size={31} />

        {/* D */}
        <Ribbons {...D} r={406} spans={spansD} links={linksD} color={GRAY} />
        <RedLinks {...D} r={406} spans={spansD} links={redD} />
        <Pie data={tableD} dataKey="value" nameKey="name" {...D} innerRadius={457} outerRadius={486} startAngle={0} endAngle={-360} paddingAngle={gapD} strokeWidth={2} isAnimationActive={false} labelLine={false} label={sectorLabel(430, 24, labelColor("#1f4a9c", "#c98f1e"))} />
        <GeneLabels names={genesD} layout={layoutD} size={24} />
        <GeneLabels names={genesDAm} layout={layoutDAm} size={31} />
      </PieChart>
    </div>
  );
}
